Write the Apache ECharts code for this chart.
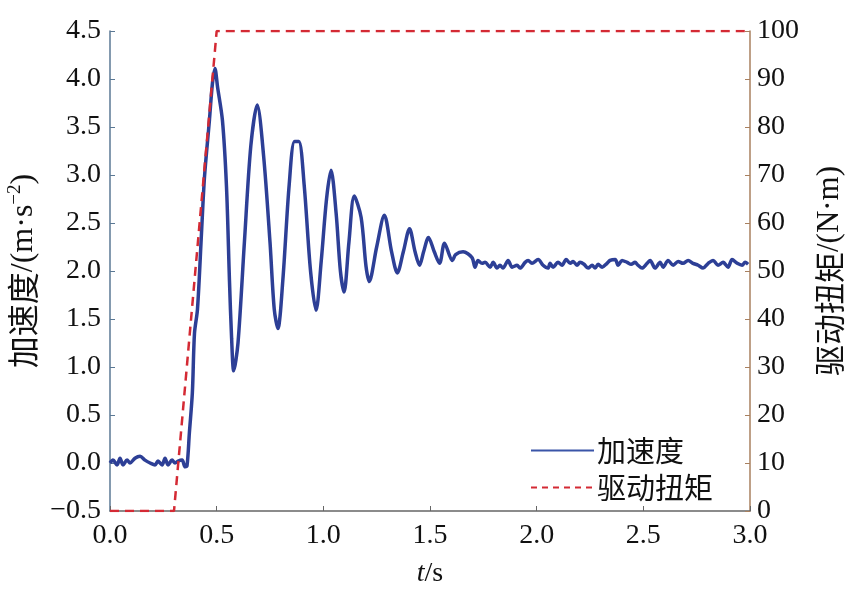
<!DOCTYPE html>
<html><head><meta charset="utf-8">
<script src="https://cdn.jsdelivr.net/npm/echarts@6/dist/echarts.min.js"></script>
<style>html,body{margin:0;padding:0;background:#fff}#c{width:862px;height:600px}</style>
</head><body><div id="c"></div>
<script>
var accT = [0.000,0.014,0.033,0.047,0.061,0.080,0.094,0.117,0.141,0.164,0.188,0.211,0.225,0.244,0.258,0.272,0.291,0.305,0.319,0.338,0.352,0.361,0.372,0.386,0.396,0.410,0.429,0.443,0.466,0.480,0.492,0.504,0.527,0.546,0.560,0.570,0.580,0.600,0.630,0.660,0.690,0.720,0.750,0.770,0.787,0.810,0.840,0.865,0.885,0.910,0.940,0.966,0.990,1.015,1.036,1.060,1.080,1.097,1.120,1.145,1.177,1.200,1.215,1.250,1.286,1.320,1.347,1.375,1.404,1.430,1.451,1.470,1.493,1.520,1.545,1.568,1.605,1.620,1.655,1.697,1.711,1.725,1.744,1.758,1.782,1.796,1.814,1.828,1.842,1.866,1.885,1.908,1.922,1.946,1.960,1.978,2.007,2.030,2.053,2.063,2.077,2.100,2.119,2.138,2.157,2.171,2.189,2.203,2.222,2.241,2.260,2.274,2.288,2.307,2.330,2.344,2.368,2.382,2.400,2.424,2.443,2.461,2.475,2.494,2.518,2.532,2.555,2.579,2.593,2.616,2.640,2.663,2.686,2.710,2.733,2.757,2.780,2.804,2.827,2.850,2.874,2.897,2.916,2.940,2.963,2.977,2.991];
var accV = [0.00,0.03,-0.02,0.05,-0.02,0.03,0.00,0.05,0.07,0.03,0.00,-0.02,0.02,-0.02,0.05,-0.02,0.03,0.00,0.02,0.03,-0.04,-0.03,0.31,0.73,1.35,1.60,2.40,2.98,3.57,3.95,4.11,3.92,3.57,2.88,1.90,1.30,0.96,1.25,2.30,3.30,3.73,3.20,2.30,1.60,1.40,1.90,2.90,3.35,3.35,2.90,2.00,1.59,2.10,2.75,3.05,2.60,2.00,1.78,2.30,2.78,2.56,2.05,1.89,2.25,2.58,2.20,1.98,2.20,2.44,2.20,2.06,2.20,2.35,2.20,2.08,2.29,2.11,2.17,2.20,2.14,2.04,2.11,2.08,2.09,2.04,2.09,2.03,2.06,2.03,2.11,2.04,2.06,2.03,2.09,2.11,2.08,2.12,2.06,2.03,2.08,2.04,2.09,2.06,2.12,2.08,2.10,2.06,2.09,2.07,2.03,2.06,2.03,2.07,2.04,2.08,2.11,2.12,2.06,2.11,2.09,2.07,2.09,2.06,2.03,2.08,2.11,2.03,2.09,2.04,2.11,2.06,2.10,2.08,2.11,2.08,2.06,2.03,2.08,2.11,2.06,2.09,2.04,2.12,2.08,2.06,2.09,2.07];
var torqueT = [0, 0.30, 0.50, 3.0];
var torqueV = [0, 0, 100, 100];
var seriesNames = ['加速度', '驱动扭矩'];

var serif = '"Liberation Serif","DejaVu Serif",serif';
var cjk = '"Noto Sans CJK SC","Noto Sans",sans-serif';
var accData = accT.map(function(t,i){return [t, accV[i]];});
var torqueData = torqueT.map(function(t,i){return [t, torqueV[i]];});
var chart = echarts.init(document.getElementById('c'), null, {renderer:'canvas'});
function fmt1(v){ return (v<0?'\u2212':'') + Math.abs(v).toFixed(1); }
chart.setOption({
  animation:false,
  backgroundColor:'#fff',
  grid:{left:110, right:112, top:31, bottom:89, containLabel:false, outerBoundsMode:'none'},
  legend:{
    orient:'vertical', left:525, top:430, itemWidth:63, itemHeight:14, itemGap:6,
    itemStyle:{opacity:0},
    textStyle:{fontFamily:cjk, fontSize:29, color:'#111', lineHeight:31, padding:[0,0,0,-2]},
    data:[
      {name:seriesNames[0], itemStyle:{opacity:0}, lineStyle:{width:2, color:'#3a55a8'}},
      {name:seriesNames[1], itemStyle:{opacity:0}, lineStyle:{width:2, color:'#d42a34', type:[6,5]}}
    ]
  },
  xAxis:{
    type:'value', min:0, max:3, interval:0.5,
    name:'{i|t}{n|/s}', nameLocation:'middle', nameGap:49,
    nameTextStyle:{rich:{i:{fontFamily:serif, fontStyle:'italic', fontSize:28, color:'#111'}, n:{fontFamily:serif, fontSize:28, color:'#111'}}},
    axisLine:{onZero:false, lineStyle:{color:'#666', width:1.5}},
    axisTick:{inside:true, length:5, lineStyle:{color:'#666'}},
    axisLabel:{fontFamily:serif, fontSize:28, color:'#111', margin:11, formatter:function(v){return fmt1(v);}},
    splitLine:{show:false}
  },
  yAxis:[{
    type:'value', min:-0.5, max:4.5, interval:0.5, position:'left',
    name:'{c|加速度}{l|/(m·s}{s|−2}{l|)}', nameLocation:'middle', nameGap:66, nameRotate:90,
    nameTextStyle:{rich:{c:{fontFamily:cjk, fontSize:32, color:'#111'}, l:{fontFamily:serif, fontSize:32, color:'#111'}, s:{fontFamily:serif, fontSize:19, color:'#111', verticalAlign:'top', padding:[0,0,17,0]}}},
    axisLine:{show:true, onZero:false, lineStyle:{color:'#5b7894', width:1.5}},
    axisTick:{inside:true, length:5, lineStyle:{color:'#5b7894'}},
    axisLabel:{fontFamily:serif, fontSize:28, color:'#111', margin:9, formatter:function(v){return fmt1(v);}},
    splitLine:{show:false}
  },{
    type:'value', min:0, max:100, interval:10, position:'right',
    name:'{c|驱动扭矩}{l|/(N·m)}', nameLocation:'middle', nameGap:64, nameRotate:90,
    nameTextStyle:{rich:{c:{fontFamily:cjk, fontSize:31, color:'#111'}, l:{fontFamily:serif, fontSize:31, color:'#111'}}},
    axisLine:{show:true, onZero:false, lineStyle:{color:'#a8805f', width:1.5}},
    axisTick:{inside:true, length:5, lineStyle:{color:'#a8805f'}},
    axisLabel:{fontFamily:serif, fontSize:28, color:'#111', margin:7},
    splitLine:{show:false}
  }],
  series:[{
    name:seriesNames[0], type:'line', yAxisIndex:0, data:accData, showSymbol:false, symbol:'none',
    smooth:0.3, lineStyle:{color:'#2d3f96', width:3.5}, itemStyle:{color:'#2d3f96'}, z:3
  },{
    name:seriesNames[1], type:'line', yAxisIndex:1, data:torqueData, showSymbol:false, symbol:'none',
    lineStyle:{color:'#d42a34', width:2.5, type:[9,6]}, itemStyle:{color:'#d42a34'}, z:4
  }]
});
</script></body></html>
